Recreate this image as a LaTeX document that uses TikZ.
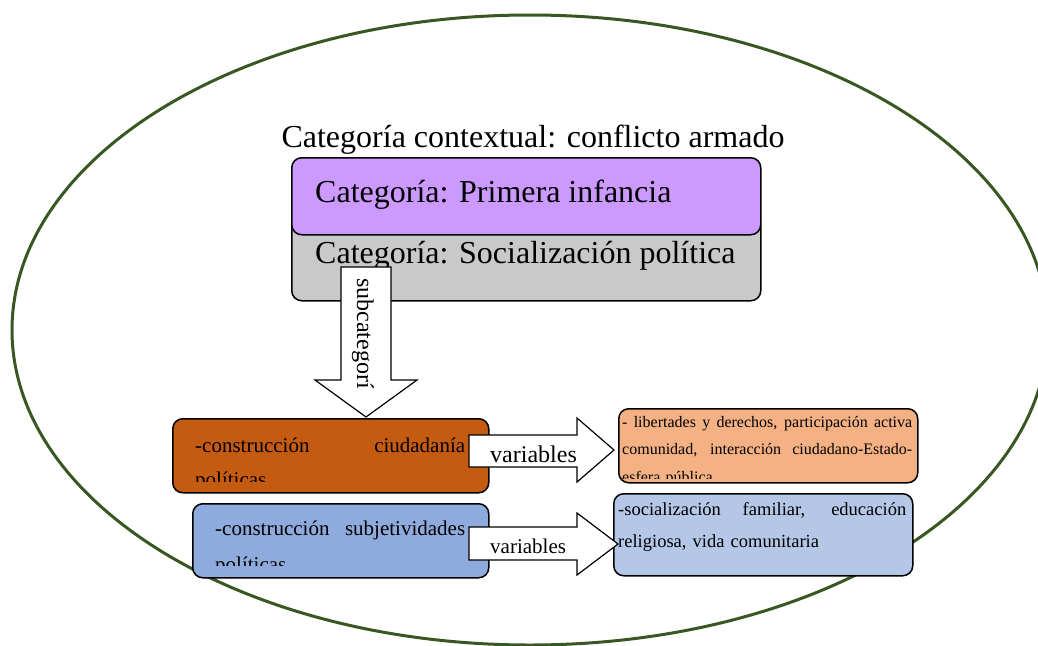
\documentclass[tikz,border=0pt]{standalone}
\usepackage{fontspec}
\setmainfont{Liberation Serif}
\usetikzlibrary{positioning}

\definecolor{contexto}{HTML}{385723}
\definecolor{lila}{HTML}{CC99FF}
\definecolor{gris}{HTML}{C9C9C9}
\definecolor{naranja}{HTML}{C55A11}
\definecolor{naranjaclaro}{HTML}{F4B183}
\definecolor{azul}{HTML}{8FAADC}
\definecolor{azulclaro}{HTML}{B4C7E7}

\newcommand{\jline}[2]{\leavevmode\hbox to #1{\spaceskip=.25em plus 1fil\relax #2}}

\begin{document}
\begin{tikzpicture}[x=1pt,y=-1pt,
    box/.style={draw=black,line width=1.5pt,rounded corners=10pt,anchor=north west,inner sep=0pt},
    txt/.style={anchor=base west,inner sep=0pt,align=left},
    blockarrow/.style={draw=black,line width=1.2pt,fill=white,line join=miter}]
    \useasboundingbox (0,0) rectangle (1038,645);
    \clip (0,0) rectangle (1038,645);
    \draw[contexto,line width=3pt] (530,330) ellipse [x radius=518pt,y radius=315pt];

    \node[anchor=base,inner sep=0pt,font=\fontsize{32}{38}\selectfont] (ctx) at (533,147) {Categoría contextual: conflicto armado};

    \node[box,fill=gris,minimum width=469pt,minimum height=85pt] (socializacion) at (291,215) {};
    \node[box,fill=lila,minimum width=469pt,minimum height=77pt] (infancia) at (291,157) {};
    \node[txt,font=\fontsize{32}{38}\selectfont] (infanciatxt) at (315,202) {Categoría: Primera infancia};
    \node[txt,font=\fontsize{32}{38}\selectfont] (socializaciontxt) at (315,263) {Categoría: Socialización política};

    % subcategorias
    \node[box,fill=naranja,minimum width=316pt,minimum height=74pt] (ciudadania) at (172,418) {};
    \node[box,fill=azul,minimum width=296pt,minimum height=74pt] (subjetividades) at (192,503) {};
    \begin{scope}
        \clip (180,420) rectangle (480,481);
        \node[txt,text width=270pt,font=\fontsize{21}{34}\selectfont] (ciudadaniatxt) at (195,452)
            {\jline{270pt}{-construcción ciudadanía}\\políticas};
    \end{scope}
    \begin{scope}
        \clip (200,505) rectangle (480,565);
        \node[txt,text width=250pt,font=\fontsize{21}{36}\selectfont] (subjetividadestxt) at (215,535)
            {\jline{250pt}{-construcción subjetividades}\\políticas};
    \end{scope}

    % variables
    \node[box,fill=naranjaclaro,minimum width=299pt,minimum height=74pt] (libertades) at (618,408) {};
    \node[box,fill=azulclaro,minimum width=299pt,minimum height=82pt] (familiar) at (613,493) {};
    \begin{scope}
        \clip (615,410) rectangle (916,478);
        \node[txt,text width=290pt,font=\fontsize{16}{27.5}\selectfont] (libertadestxt) at (622,427)
            {\jline{290pt}{- libertades y derechos, participación activa}\\
             \jline{290pt}{comunidad, interacción ciudadano-Estado-}\\esfera pública};
    \end{scope}
    \node[txt,text width=288pt,font=\fontsize{18.5}{32}\selectfont] (familiartxt) at (618,515)
        {\jline{288pt}{-socialización familiar, educación}\\religiosa, vida comunitaria};

    % flechas
    \draw[blockarrow] (341,267) -- (391,267) -- (391,380) -- (417,380) -- (366,417)
        -- (315,380) -- (341,380) -- cycle;
    \node[anchor=base west,inner sep=0pt,rotate=-90,font=\fontsize{24}{28}\selectfont] (subcat) at (357,278) {subcategorí};
    \draw[blockarrow] (469,435) -- (577,435) -- (577,418) -- (614,450) -- (577,482)
        -- (577,467) -- (469,467) -- cycle;
    \node[txt,font=\fontsize{24}{28}\selectfont] (var1) at (490,462) {variables};
    \draw[blockarrow] (469,527) -- (577,527) -- (577,513) -- (618,544) -- (577,575)
        -- (577,560) -- (469,560) -- cycle;
    \node[txt,font=\fontsize{21}{26}\selectfont] (var2) at (490,553) {variables};
\end{tikzpicture}
\end{document}
